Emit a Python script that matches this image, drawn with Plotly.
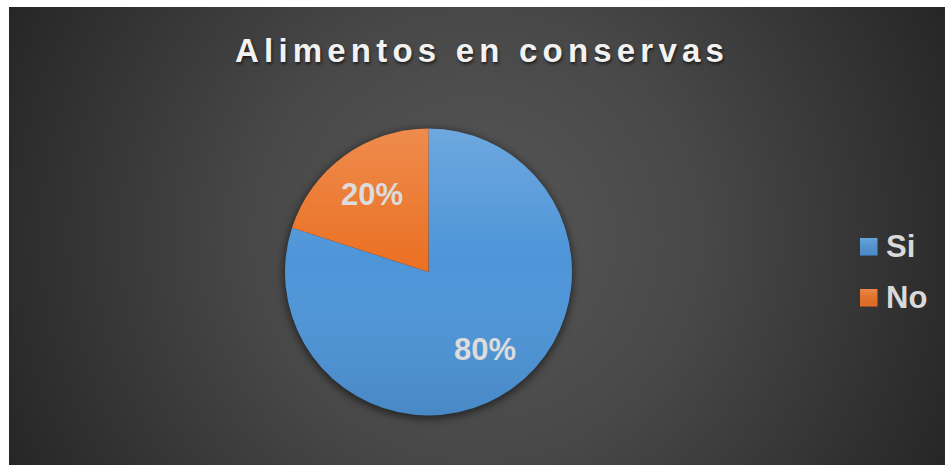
import base64
import math
import plotly.graph_objects as go

# ---- data ----
categories = ["Si", "No"]
values = [80, 20]
slice_colors = ["#4e95d8", "#eb7226"]
title_text = "Alimentos en conservas"

# ---- geometry (pixels) ----
W, H = 945, 465
AX0, AY0 = 9, 7                 # chart area starts here (white strip left/top)
CX, CY, R = 428.5, 272.0, 143.5  # pie centre and radius
LABEL_RADIUS = 0.67              # data labels sit at this fraction of the radius
FONT = "Liberation Sans, Arial, sans-serif"


def svg_uri(svg):
    return "data:image/svg+xml;base64," + base64.b64encode(svg.encode()).decode()


cw, ch = W - AX0, H - AY0
background = f"""<svg xmlns="http://www.w3.org/2000/svg" width="{cw}" height="{ch}" viewBox="0 0 {cw} {ch}">
<defs>
<radialGradient id="bg" gradientUnits="userSpaceOnUse" cx="{cw/2}" cy="{ch/2}" r="520">
<stop offset="0" stop-color="#575757"/>
<stop offset="0.43" stop-color="#484848"/>
<stop offset="0.9" stop-color="#2c2c2c"/>
<stop offset="1" stop-color="#262626"/>
</radialGradient>
<filter id="soft" x="-30%" y="-30%" width="160%" height="160%"><feGaussianBlur stdDeviation="4"/></filter>
</defs>
<rect width="{cw}" height="{ch}" fill="url(#bg)"/>
<circle cx="{CX-AX0}" cy="{CY-AY0+2}" r="{R+1}" fill="#000" opacity="0.55" filter="url(#soft)"/>
</svg>"""

d = 2 * R
shading = f"""<svg xmlns="http://www.w3.org/2000/svg" width="{d}" height="{d}" viewBox="0 0 {d} {d}">
<defs>
<linearGradient id="sh" x1="0" y1="0" x2="0" y2="1">
<stop offset="0" stop-color="#ffffff" stop-opacity="0.18"/>
<stop offset="0.45" stop-color="#ffffff" stop-opacity="0"/>
<stop offset="1" stop-color="#000000" stop-opacity="0.09"/>
</linearGradient>
</defs>
<circle cx="{R}" cy="{R}" r="{R}" fill="url(#sh)"/>
</svg>"""

# small legend swatches get the same light-to-dark finish
swatch = """<svg xmlns="http://www.w3.org/2000/svg" width="20" height="20" viewBox="0 0 20 20">
<defs>
<linearGradient id="sw" x1="0" y1="0" x2="0" y2="1">
<stop offset="0" stop-color="#ffffff" stop-opacity="0.15"/>
<stop offset="1" stop-color="#000000" stop-opacity="0.06"/>
</linearGradient>
</defs>
<rect width="20" height="20" fill="url(#sw)"/>
</svg>"""

fig = go.Figure()

fig.add_trace(go.Pie(
    labels=categories,
    values=values,
    sort=False,
    direction="clockwise",
    rotation=0,
    marker=dict(colors=slice_colors, line=dict(width=0)),
    textinfo="none",
    hoverinfo="label+percent",
    showlegend=False,
    domain=dict(x=[(CX - R) / W, (CX + R) / W],
                y=[1 - (CY + R) / H, 1 - (CY - R) / H]),
))

images = [
    dict(source=svg_uri(background), xref="paper", yref="paper",
         x=AX0 / W, y=1 - AY0 / H, sizex=cw / W, sizey=ch / H,
         xanchor="left", yanchor="top", sizing="stretch", layer="below"),
    dict(source=svg_uri(shading), xref="paper", yref="paper",
         x=(CX - R) / W, y=1 - (CY - R) / H, sizex=d / W, sizey=d / H,
         xanchor="left", yanchor="top", sizing="stretch", layer="above"),
]

annotations = [
    dict(text=f'<span style="letter-spacing:5.2px">{title_text}</span>',
         x=482 / W, y=1 - 51 / H, xref="paper", yref="paper",
         xanchor="center", yanchor="middle", showarrow=False,
         font=dict(family=FONT, size=33, color="#f2f2f2", weight="bold",
                   shadow="1px 2px 3px rgba(0,0,0,0.6)")),
]

# percentage labels on each slice, at the slice's mid angle (clockwise from 12 o'clock)
total = sum(values)
cum = 0
for v in values:
    theta = 2 * math.pi * (cum + v / 2) / total
    cum += v
    lx = CX + LABEL_RADIUS * R * math.sin(theta)
    ly = CY - LABEL_RADIUS * R * math.cos(theta)
    annotations.append(dict(text=f"{round(100 * v / total)}%",
                            x=lx / W, y=1 - ly / H, xref="paper", yref="paper",
                            xanchor="center", yanchor="middle", showarrow=False,
                            font=dict(family=FONT, size=31, color="#dcdcdc",
                                      weight="bold")))

# legend: coloured square + label for each category
shapes = []
leg_x0, leg_y0, leg_step, sq = 860, 238, 51, 17.5
for i, (lab, col) in enumerate(zip(categories, slice_colors)):
    top = leg_y0 + i * leg_step
    shapes.append(dict(type="rect", xref="paper", yref="paper",
                       x0=leg_x0 / W, x1=(leg_x0 + sq) / W,
                       y0=1 - (top + sq) / H, y1=1 - top / H,
                       fillcolor=col, line=dict(width=0), layer="below"))
    images.append(dict(source=svg_uri(swatch), xref="paper", yref="paper",
                       x=leg_x0 / W, y=1 - top / H, sizex=sq / W, sizey=sq / H,
                       xanchor="left", yanchor="top", sizing="stretch",
                       layer="above"))
    annotations.append(dict(text=lab, x=(leg_x0 + sq + 6) / W,
                            y=1 - (top + sq / 2) / H, xref="paper", yref="paper",
                            xanchor="left", yanchor="middle", showarrow=False,
                            font=dict(family=FONT, size=31, color="#d9d9d9",
                                      weight="bold")))

fig.update_layout(
    width=W, height=H,
    margin=dict(l=0, r=0, t=0, b=0),
    paper_bgcolor="#ffffff",
    plot_bgcolor="rgba(0,0,0,0)",
    images=images,
    annotations=annotations,
    shapes=shapes,
    showlegend=False,
)

fig.write_html("out.html")
